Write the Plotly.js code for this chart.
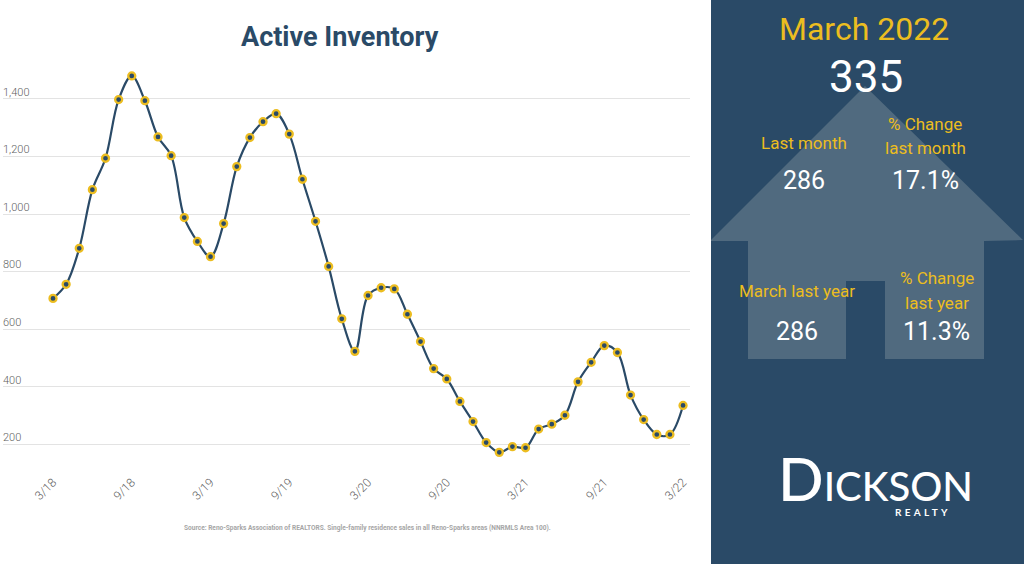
<!DOCTYPE html>
<html>
<head>
<meta charset="utf-8">
<script src="https://cdn.plot.ly/plotly-3.0.1.min.js"></script>
<style>html,body{margin:0;padding:0;background:#fff;overflow:hidden}#c{width:1024px;height:564px}</style>
</head>
<body>
<div id="c"></div>
<script>
const months = ["3/18","4/18","5/18","6/18","7/18","8/18","9/18","10/18","11/18","12/18","1/19","2/19",
"3/19","4/19","5/19","6/19","7/19","8/19","9/19","10/19","11/19","12/19","1/20","2/20",
"3/20","4/20","5/20","6/20","7/20","8/20","9/20","10/20","11/20","12/20","1/21","2/21",
"3/21","4/21","5/21","6/21","7/21","8/21","9/21","10/21","11/21","12/21","1/22","2/22","3/22"];
const inventory = [707,756,881,1085,1194,1398,1480,1394,1268,1203,988,905,
852,967,1165,1266,1321,1349,1278,1121,975,818,636,523,
717,744,740,652,557,463,427,349,279,206,172,192,
188,253,270,301,417,485,543,519,371,286,234,234,335];
const xTicks = ["3/18","9/18","3/19","9/19","3/20","9/20","3/21","9/21","3/22"];
const yTicks = [200,400,600,800,1000,1200,1400];
const yTickLabels = ["200","400","600","800","1,000","1,200","1,400"];

const W = 1024, H = 564;
const px = x => x / W, py = y => 1 - y / H;
const NAVY = "#2a4a67", GOLD = "#ecbd20", HOUSE = "#506a7f";

function note(text, x, y, size, color, extra) {
  return Object.assign({
    text, x: px(x), y: py(y), xref: "paper", yref: "paper",
    xanchor: "center", yanchor: "middle", showarrow: false,
    font: {family: "Roboto, sans-serif", size, color}
  }, extra || {});
}

const annotations = [
  note("<b>Active Inventory</b>", 339.5, 37, 27, NAVY),
  note("<b>Source: Reno-Sparks Association of REALTORS. Single-family residence sales in all Reno-Sparks areas (NNRMLS Area 100).</b>", 367, 528, 6.55, "#a6a6a6"),
  note("March 2022", 864, 29, 32, GOLD),
  note("335", 865.5, 77, 44, "#ffffff"),
  note("Last month", 804, 143, 17, GOLD),
  note("% Change", 925, 124, 17, GOLD),
  note("last month", 925, 148, 17, GOLD),
  note("286", 804, 180, 25, "#ffffff"),
  note("17.1%", 925, 180, 25, "#ffffff"),
  note("March last year", 797, 291, 17, GOLD),
  note("% Change", 937, 278, 17, GOLD),
  note("last year", 937, 303, 17, GOLD),
  note("286", 797, 331, 25, "#ffffff"),
  note("11.3%", 936, 331, 25, "#ffffff"),
  note('D<span style="font-size:40px">ICKSON</span>', 875, 478, 60, "#ffffff", {font:{family:"Lato, sans-serif", size:60, color:"#ffffff", weight:500}}),
  note("<b>REALTY</b>", 923, 512, 10, "#ffffff", {font:{family:"Lato, sans-serif", size:10, color:"#ffffff"}})
];

const f = (x,y) => `${px(x)} ${py(y)}`;
const housePath = "M " + [[711,240],[865,86],[1023,240],[984,241],[984,359],[885,359],[885,281],[846,281],[846,359],[748,359],[748,241],[711,241]]
  .map(p => f(p[0],p[1])).join(" L ") + " Z";

const shapes = [
  {type:"rect", xref:"paper", yref:"paper", x0:px(711), x1:1, y0:0, y1:1, fillcolor:NAVY, line:{width:0}, layer:"below"},
  {type:"path", xref:"paper", yref:"paper", path:housePath, fillcolor:HOUSE, line:{width:0}, layer:"below"}
];

const trace = {
  x: months, y: inventory, type:"scatter", mode:"lines+markers",
  line:{color:NAVY, width:2.2, shape:"spline", smoothing:1},
  marker:{color:NAVY, size:7, line:{color:GOLD, width:2.3}},
  hoverinfo:"x+y"
};

const layout = {
  width:W, height:H, margin:{l:0,r:0,t:0,b:0,pad:0},
  paper_bgcolor:"#ffffff", plot_bgcolor:"rgba(0,0,0,0)", showlegend:false,
  font:{family:"Roboto, sans-serif", color:"#666666"},
  xaxis:{domain:[px(3),px(690)], type:"category", categoryorder:"array", categoryarray:months,
    range:[-3.81,48.53], tickmode:"array", tickvals:xTicks, ticktext:xTicks, tickangle:-45,
    showgrid:false, zeroline:false, showline:false, ticks:"", ticklen:0,
    tickfont:{size:12, color:"#5f5f5f", weight:300}, automargin:false},
  yaxis:{domain:[py(472),py(60)], range:[103.7,1535.5], tickmode:"array", tickvals:yTicks, ticktext:yTickLabels,
    ticklabelposition:"inside", ticklabelshift:-7, ticklabelstandoff:-3,
    showgrid:true, gridcolor:"#e3e3e3", gridwidth:1, zeroline:false, showline:false, ticks:"",
    tickfont:{size:11, color:"#5f5f5f", weight:300}, automargin:false},
  shapes, annotations
};

Plotly.newPlot("c",[trace],layout,{displayModeBar:false,staticPlot:true}).then(() => {
  document.querySelectorAll(".annotation-text").forEach(t => {
    if (t.textContent === "REALTY") t.style.letterSpacing = "3.3px";
  });
});
</script>
</body>
</html>
